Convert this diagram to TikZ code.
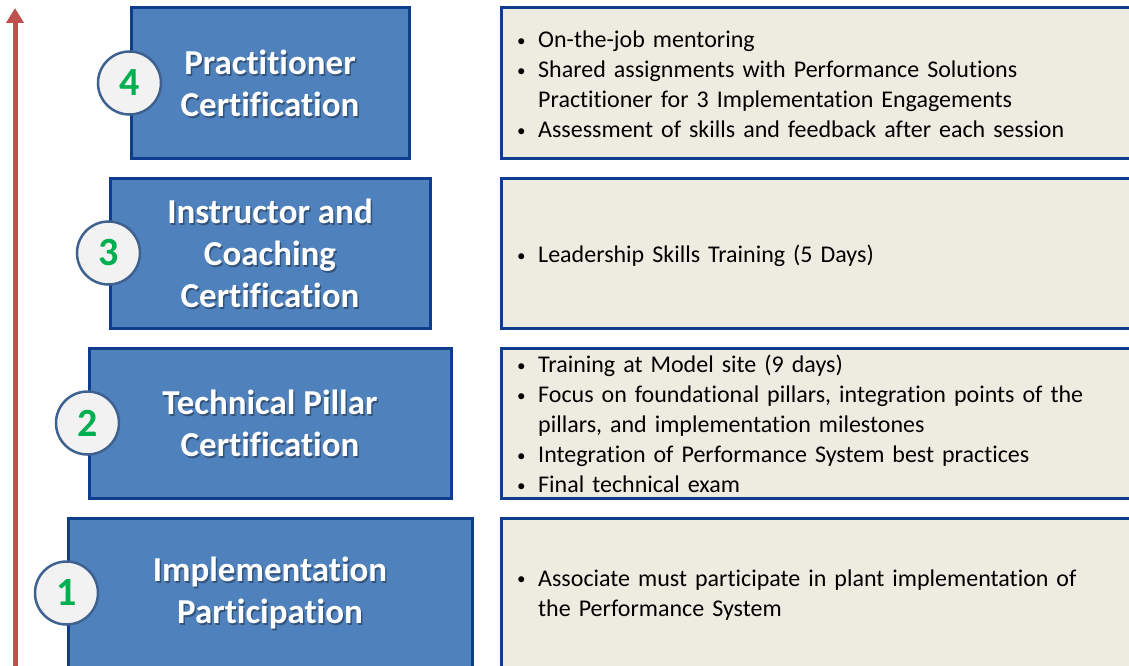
\documentclass[tikz,border=0pt]{standalone}
\usepackage{fontspec}
\setmainfont{Carlito}[RawFeature={-liga;-clig;-dlig;-calt}]
\usetikzlibrary{arrows.meta}
\definecolor{boxblue}{HTML}{4F81BD}
\definecolor{boxedge}{HTML}{0E3D8E}
\definecolor{panel}{HTML}{EEECE1}
\definecolor{ringedge}{HTML}{3F6190}
\definecolor{ringfill}{HTML}{F2F2F2}
\definecolor{numgreen}{HTML}{00B050}
\definecolor{arrowred}{HTML}{C0504D}
\newcommand\bitem[1]{\par\hangindent=22pt\hangafter=1\noindent\makebox[22pt][l]{\hspace{1pt}\raisebox{1.5pt}{\fontsize{17}{17}\selectfont•}}#1\par}
\newcommand\tiNL{t\kern0pt i}
\begin{document}
\begin{tikzpicture}[x=1pt,y=-1pt,
  bluebox/.style={draw=boxedge, line width=3pt, fill=boxblue, minimum height=150pt, inner sep=0pt},
  panelbox/.style={draw=boxedge, line width=3pt, fill=panel, minimum height=150pt, minimum width=640pt, inner sep=0pt, anchor=west},
  titletext/.style={text=white, align=center, inner sep=0pt, font=\fontsize{35}{42}\selectfont\bfseries},
  titleshadow/.style={titletext, text=black, text opacity=0.35},
  bullets/.style={anchor=west, inner sep=0pt, text width=610pt, align=left, font=\fontsize{24}{30}\selectfont},
  ring/.style={circle, draw=ringedge, line width=2.5pt, fill=ringfill, minimum size=63pt, inner sep=0pt, text=numgreen, font=\fontsize{40}{40}\selectfont\bfseries},
  riser/.style={draw=arrowred, line width=5pt, -{Triangle[length=15pt,width=17pt]}}
]
\useasboundingbox (0,0) rectangle (1129,666);
\clip (0,0) rectangle (1129,666);

\coordinate (base) at (15,690);
\coordinate (tip) at (15,8);
\draw[riser] (base) -- (tip);

% row 4
\node[bluebox, minimum width=278pt] (b4) at (270,83) {};
\node[panelbox] (p4) at (500,83) {};
\node[titleshadow] (t4s) at (271.5,85) {Prac\tiNL\tiNL oner\\Cer\tiNL fica\tiNL on};
\node[titletext] (t4) at (b4) {Prac\tiNL\tiNL oner\\Cer\tiNL fica\tiNL on};
\node[ring] (c4) at (b4.west) {4};
\node[bullets] (l4) at (516,78) {\bitem{On-the-job mentoring}\bitem{Shared assignments with Performance Solutions\newline Practitioner for 3 Implementation Engagements}\bitem{Assessment of skills and feedback after each session}};

% row 3
\node[bluebox, minimum width=320pt] (b3) at (270,253) {};
\node[panelbox] (p3) at (500,253) {};
\node[titleshadow] (t3s) at (271.5,255) {Instructor and\\Coaching\\Cer\tiNL fica\tiNL on};
\node[titletext] (t3) at (b3) {Instructor and\\Coaching\\Cer\tiNL fica\tiNL on};
\node[ring] (c3) at (b3.west) {3};
\node[bullets] (l3) at (516,250) {\bitem{Leadership Skills Training (5 Days)}};

% row 2
\node[bluebox, minimum width=362pt] (b2) at (270,423) {};
\node[panelbox] (p2) at (500,423) {};
\node[titleshadow] (t2s) at (271.5,425) {Technical Pillar\\Cer\tiNL fica\tiNL on};
\node[titletext] (t2) at (b2) {Technical Pillar\\Cer\tiNL fica\tiNL on};
\node[ring] (c2) at (b2.west) {2};
\node[bullets] (l2) at (516,418) {\bitem{Training at Model site (9 days)}\bitem{Focus on foundational pillars, integration points of the\newline pillars, and implementation milestones}\bitem{Integration of Performance System best practices}\bitem{Final technical exam}};

% row 1
\node[bluebox, minimum width=404pt] (b1) at (270,593) {};
\node[panelbox] (p1) at (500,593) {};
\node[titleshadow] (t1s) at (271.5,595) {Implementa\tiNL on\\Par\tiNL cipa\tiNL on};
\node[titletext] (t1) at (b1) {Implementa\tiNL on\\Par\tiNL cipa\tiNL on};
\node[ring] (c1) at (b1.west) {1};
\node[bullets] (l1) at (516,588) {\bitem{Associate must participate in plant implementation of\newline the Performance System}};
\end{tikzpicture}
\end{document}
